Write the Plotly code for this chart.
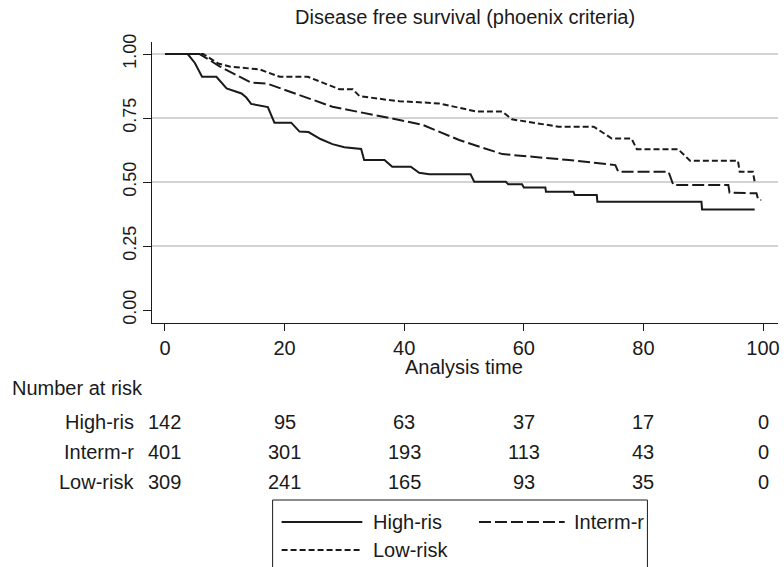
import plotly.graph_objects as go

# ---------------- data ----------------
groups = ["High-ris", "Interm-r", "Low-risk"]

high_t = [0, 3.8, 5.0, 6.2, 8.6, 10.3, 12.8, 13.6, 14.4, 17.2, 18.3, 21.1, 22.5, 24.0, 26, 28, 30, 32, 32.8, 33.3,
          36.7, 38.0, 41.1, 42.5, 44.2, 51.1, 51.7, 57.0, 57.4, 59.7, 60.0, 63.6, 63.7, 68.3, 68.5, 72.2, 72.3,
          89.7, 89.8, 98.6]
high_s = [1.0, 1.0, 0.965, 0.911, 0.911, 0.866, 0.846, 0.83, 0.805, 0.793, 0.732, 0.732, 0.697, 0.695, 0.668,
          0.648, 0.636, 0.629, 0.629, 0.586, 0.586, 0.560, 0.560, 0.536, 0.530, 0.530, 0.501, 0.501, 0.491,
          0.491, 0.479, 0.479, 0.462, 0.462, 0.449, 0.449, 0.423, 0.423, 0.393, 0.393]

inter_t = [0, 5.8, 9.2, 14.4, 17.0, 28.0, 38.6, 43.1, 49.2, 56.4, 67.5, 75.3, 75.8, 84.2, 85.0, 94.2, 94.4,
           98.9, 99.2, 99.7]
inter_s = [1.0, 1.0, 0.951, 0.888, 0.885, 0.794, 0.745, 0.723, 0.664, 0.609, 0.586, 0.566, 0.540, 0.540,
           0.488, 0.488, 0.458, 0.456, 0.430, 0.430]

low_t = [0, 6.4, 8.9, 10.8, 15.8, 19.2, 23.9, 29.2, 31.4, 32.5, 37.5, 39.2, 45.8, 50.0, 52.2, 56.4, 58.0,
         65.8, 71.7, 74.7, 78.0, 78.9, 85.8, 87.8, 95.8, 96.1, 98.3, 98.6]
low_s = [1.0, 1.0, 0.963, 0.951, 0.940, 0.911, 0.911, 0.862, 0.862, 0.836, 0.820, 0.816, 0.807, 0.785, 0.775,
         0.775, 0.745, 0.716, 0.716, 0.670, 0.670, 0.628, 0.628, 0.583, 0.583, 0.540, 0.540, 0.501]

risk_times = [0, 20, 40, 60, 80, 100]
risk_high = [142, 95, 63, 37, 17, 0]
risk_inter = [401, 301, 193, 113, 43, 0]
risk_low = [309, 241, 165, 93, 35, 0]

x_ticks = [0, 20, 40, 60, 80, 100]
y_ticks = [0.0, 0.25, 0.5, 0.75, 1.0]
y_ticktext = ["0.00", "0.25", "0.50", "0.75", "1.00"]

# ---------------- style ----------------
INK = "#1a1a1a"
FONT = "Liberation Sans, Arial, sans-serif"
FS = 20
dashes = ["solid", "12px,4px", "6px,3px"]

W, H = 784, 567
L, R, T, B = 152, 4, 42, 244
PW, PH = W - L - R, H - T - B


def px_x(px):
    return (px - L) / PW


def px_y(py):
    return (H - B - py) / PH


fig = go.Figure()
series = [(high_t, high_s), (inter_t, inter_s), (low_t, low_s)]
for name, (t, s), d in zip(groups, series, dashes):
    fig.add_trace(go.Scatter(x=t, y=s, mode="lines", name=name, showlegend=False,
                             line=dict(color=INK, width=2, dash=d)))

shapes = []
for v in y_ticks[1:]:
    shapes.append(dict(type="line", xref="paper", yref="y", x0=0, x1=1, y0=v, y1=v,
                       line=dict(color="#a8a8a8", width=1), layer="below"))

annotations = []
annotations.append(dict(text="Disease free survival (phoenix criteria)", xref="paper", yref="paper",
                        x=0.5, y=px_y(17), xanchor="center", yanchor="middle", showarrow=False,
                        font=dict(family=FONT, size=FS, color=INK)))
annotations.append(dict(text="Analysis time", xref="x", yref="paper", x=50, y=px_y(367),
                        xanchor="center", yanchor="middle", showarrow=False,
                        font=dict(family=FONT, size=FS, color=INK)))
annotations.append(dict(text="Number at risk", xref="paper", yref="paper", x=px_x(10), y=px_y(388),
                        xanchor="left", yanchor="middle", showarrow=False,
                        font=dict(family=FONT, size=FS, color=INK)))
for i, (name, vals) in enumerate(zip(groups, [risk_high, risk_inter, risk_low])):
    py = 422 + 30 * i
    annotations.append(dict(text=name, xref="paper", yref="paper", x=px_x(136), y=px_y(py),
                            xanchor="right", yanchor="middle", showarrow=False,
                            font=dict(family=FONT, size=FS, color=INK)))
    for t, v in zip(risk_times, vals):
        annotations.append(dict(text=str(v), xref="x", yref="paper", x=t, y=px_y(py),
                                xanchor="center", yanchor="middle", showarrow=False,
                                font=dict(family=FONT, size=FS, color=INK)))

# legend box (drawn manually)
shapes.append(dict(type="rect", xref="paper", yref="paper", x0=px_x(273), x1=px_x(649),
                   y0=px_y(500), y1=px_y(580), line=dict(color=INK, width=1), fillcolor="white"))
legend_pos = [(282, 363, 522, 372), (480, 566, 522, 573), (282, 363, 550, 372)]
for name, d, (x0, x1, yy, tx) in zip(groups, dashes, legend_pos):
    shapes.append(dict(type="line", xref="paper", yref="paper", x0=px_x(x0), x1=px_x(x1),
                       y0=px_y(yy), y1=px_y(yy), line=dict(color=INK, width=2, dash=d)))
    annotations.append(dict(text=name, xref="paper", yref="paper", x=px_x(tx), y=px_y(yy),
                            xanchor="left", yanchor="middle", showarrow=False,
                            font=dict(family=FONT, size=FS, color=INK)))

fig.update_layout(
    width=W, height=H, autosize=False,
    margin=dict(l=L, r=R, t=T, b=B, pad=0),
    paper_bgcolor="white", plot_bgcolor="white",
    shapes=shapes, annotations=annotations,
    xaxis=dict(range=[-2.17, 102.5], tickvals=x_ticks, ticks="outside", ticklen=7, tickwidth=1,
               tickcolor=INK, showline=True, linecolor=INK, linewidth=1, showgrid=False, zeroline=False,
               tickfont=dict(family=FONT, size=FS, color=INK), fixedrange=True),
    yaxis=dict(range=[-0.0508, 1.047], tickvals=y_ticks, ticktext=y_ticktext, tickangle=-90,
               ticks="outside", ticklen=8, tickwidth=1, tickcolor=INK, showline=True, linecolor=INK,
               linewidth=1, showgrid=False, zeroline=False,
               tickfont=dict(family=FONT, size=18, color=INK), fixedrange=True),
)

fig.write_html("out.html")
